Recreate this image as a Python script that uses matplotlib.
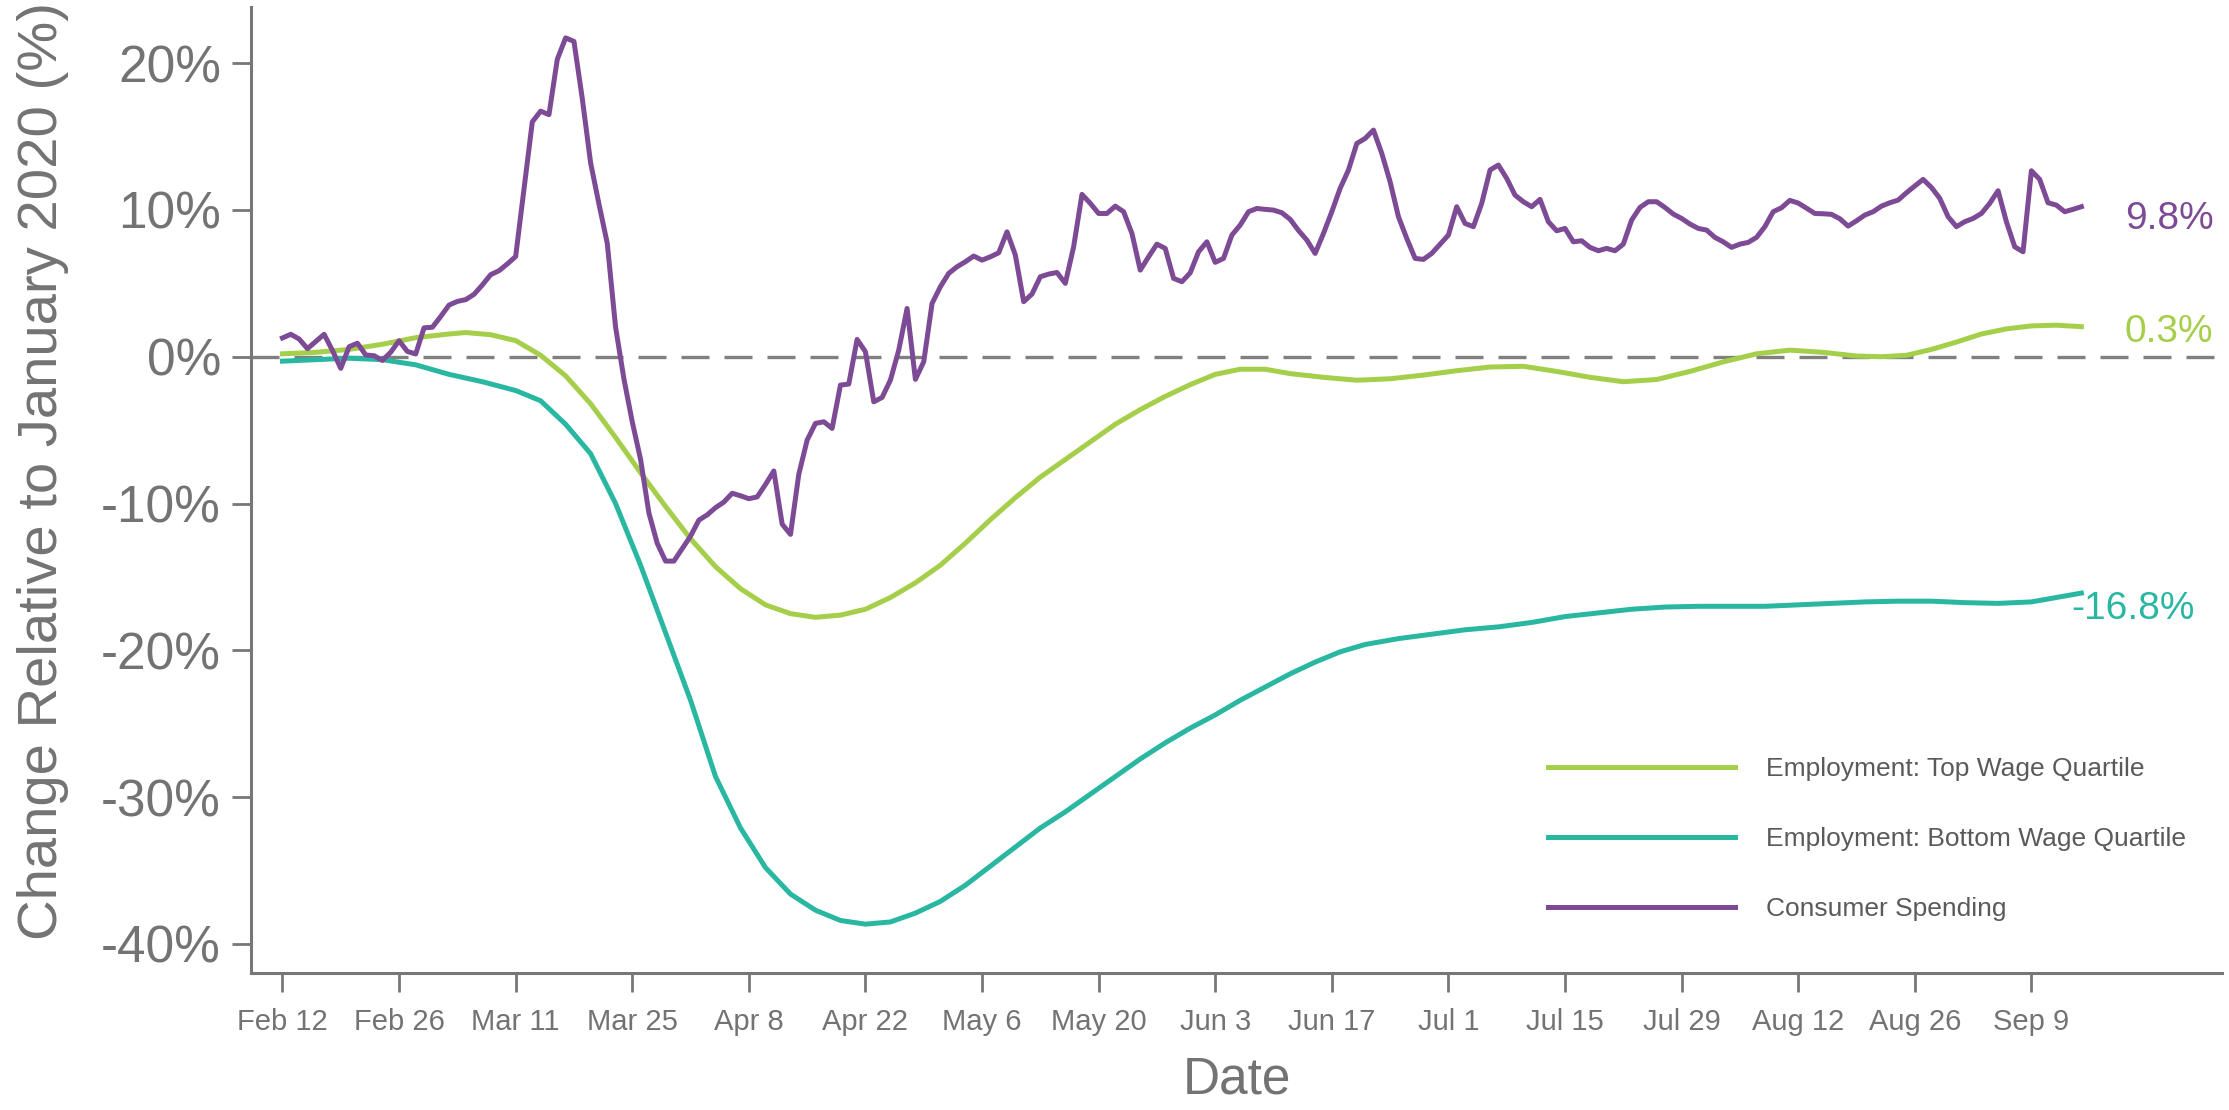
import numpy as np
import pandas as pd
import matplotlib
matplotlib.use('Agg')
import matplotlib.pyplot as plt
from matplotlib.ticker import FuncFormatter
import matplotlib.dates as mdates

plt.rcParams['font.family'] = ['Liberation Sans', 'DejaVu Sans']

# daily consumer spending, starts Feb 12 2020
start = pd.Timestamp('2020-02-12')
spending = [
    1.28, 1.53, 1.21, 0.55, 1.04, 1.53, 0.43, -0.79, 0.68, 0.92,
    0.12, 0.07, -0.25, 0.31, 1.09, 0.36, 0.19, 1.97, 2.01, 2.74,
    3.52, 3.77, 3.89, 4.25, 4.89, 5.59, 5.86, 6.32, 6.83, 11.4,
    16.0, 16.73, 16.49, 20.26, 21.72, 21.48, 17.59, 13.21, 10.41, 7.73,
    2.01, -1.51, -4.43, -6.99, -10.64, -12.71, -13.92, -13.92, -13.07, -12.22,
    -11.13, -10.77, -10.28, -9.9, -9.3, -9.47, -9.67, -9.55, -8.70, -7.78,
    -11.4, -12.1, -8.0, -5.68, -4.54, -4.43, -4.88, -1.93, -1.86, 1.18,
    0.34, -3.07, -2.77, -1.59, 0.45, 3.29, -1.54, -0.34, 3.63, 4.77,
    5.68, 6.13, 6.47, 6.86, 6.58, 6.81, 7.08, 8.51, 6.93, 3.75,
    4.27, 5.45, 5.63, 5.74, 5.0, 7.49, 11.06, 10.45, 9.76, 9.76,
    10.26, 9.88, 8.40, 5.90, 6.81, 7.67, 7.38, 5.34, 5.11, 5.72,
    7.15, 7.83, 6.43, 6.70, 8.29, 8.97, 9.88, 10.10, 10.04, 9.99,
    9.81, 9.36, 8.6, 7.95, 7.04, 8.40, 9.88, 11.47, 12.72, 14.53,
    14.87, 15.44, 13.85, 11.92, 9.54, 8.06, 6.70, 6.63, 7.04, 7.67,
    8.29, 10.22, 9.08, 8.86, 10.45, 12.72, 13.06, 12.15, 11.01, 10.56,
    10.22, 10.72, 9.20, 8.58, 8.74, 7.83, 7.90, 7.45, 7.22, 7.38,
    7.22, 7.67, 9.31, 10.17, 10.56, 10.56, 10.17, 9.72, 9.42, 9.04,
    8.74, 8.63, 8.13, 7.83, 7.45, 7.67, 7.79, 8.13, 8.86, 9.88,
    10.15, 10.65, 10.47, 10.12, 9.76, 9.74, 9.70, 9.40, 8.90, 9.26,
    9.65, 9.88, 10.26, 10.49, 10.67, 11.17, 11.63, 12.08, 11.53, 10.79,
    9.54, 8.86, 9.20, 9.42, 9.76, 10.45, 11.31, 9.20, 7.49, 7.15,
    12.67, 12.08, 10.49, 10.33, 9.88, 10.04, 10.22,
]

# employment, days after Feb 12
top_days = [0, 4, 8, 12, 16, 20, 22, 25, 28, 31, 34, 37, 40, 43, 46, 49, 52, 55,
            58, 61, 64, 67, 70, 73, 76, 79, 82, 85, 88, 91, 94, 97, 100, 103,
            106, 109, 112, 115, 118, 121, 125, 129, 133, 137, 141, 145, 149,
            153, 157, 161, 165, 169, 173, 177, 181, 185, 189, 192, 195, 198,
            201, 204, 207, 210, 213, 216]
top_vals = [0.2, 0.3, 0.5, 0.85, 1.3, 1.55, 1.65, 1.5, 1.1, 0.1, -1.3, -3.2,
            -5.5, -7.9, -10.2, -12.4, -14.3, -15.8, -16.9, -17.5, -17.75, -17.6,
            -17.2, -16.4, -15.4, -14.2, -12.7, -11.1, -9.6, -8.2, -7.0, -5.8,
            -4.6, -3.6, -2.7, -1.9, -1.2, -0.85, -0.85, -1.15, -1.4, -1.6, -1.5,
            -1.25, -0.95, -0.7, -0.65, -1.0, -1.4, -1.7, -1.55, -1.0, -0.35,
            0.2, 0.45, 0.3, 0.05, 0.0, 0.1, 0.5, 1.0, 1.55, 1.9, 2.1, 2.15, 2.05]

bottom_days = [0, 4, 8, 12, 16, 20, 24, 28, 31, 34, 37, 40, 43, 46, 49, 52, 55,
               58, 61, 64, 67, 70, 73, 76, 79, 82, 85, 88, 91, 94, 97, 100, 103,
               106, 109, 112, 115, 118, 121, 124, 127, 130, 134, 138, 142, 146,
               150, 154, 158, 162, 166, 170, 174, 178, 182, 186, 190, 194, 198,
               202, 206, 210, 213, 216]
bottom_vals = [-0.3, -0.2, -0.1, -0.2, -0.55, -1.2, -1.7, -2.3, -3.0, -4.6, -6.6,
               -10.0, -14.2, -18.8, -23.4, -28.6, -32.1, -34.8, -36.6, -37.7,
               -38.4, -38.65, -38.5, -37.9, -37.1, -36.0, -34.7, -33.4, -32.1,
               -31.0, -29.8, -28.6, -27.4, -26.3, -25.3, -24.4, -23.4, -22.5,
               -21.6, -20.8, -20.1, -19.6, -19.2, -18.9, -18.6, -18.4, -18.1,
               -17.7, -17.45, -17.2, -17.05, -17.0, -17.0, -17.0, -16.9, -16.8,
               -16.7, -16.65, -16.65, -16.75, -16.8, -16.7, -16.4, -16.1]

labels = ['Employment: Top Wage Quartile', 'Employment: Bottom Wage Quartile',
          'Consumer Spending']
colors = ['#A5CE4A', '#2AB7A2', '#7D4A95']
end_labels = ['0.3%', '-16.8%', '9.8%']

gray = '#777777'

fig = plt.figure(figsize=(22.29, 11.10), dpi=100)
ax = fig.add_axes([0.1126, 0.1234, 0.8843, 0.8705])

spend_dates = pd.date_range(start, periods=len(spending), freq='D')
top_dates = start + pd.to_timedelta(top_days, unit='D')
bottom_dates = start + pd.to_timedelta(bottom_days, unit='D')

ax.axhline(0, color='#808080', lw=2.4, dashes=(8.4, 4.5), zorder=1)
ax.plot(top_dates, top_vals, color=colors[0], lw=3.6, label=labels[0], zorder=2)
ax.plot(bottom_dates, bottom_vals, color=colors[1], lw=3.6, label=labels[1], zorder=2)
ax.plot(spend_dates, spending, color=colors[2], lw=3.6, label=labels[2], zorder=3)

# end labels
ax.text(start + pd.Timedelta(days=221.2), 1.7, end_labels[0], color=colors[0],
        fontsize=28, va='center', ha='left')
ax.text(start + pd.Timedelta(days=214.8), -17.2, end_labels[1], color=colors[1],
        fontsize=28, va='center', ha='left')
ax.text(start + pd.Timedelta(days=221.2), 9.4, end_labels[2], color=colors[2],
        fontsize=28, va='center', ha='left')

ax.set_xlim(start - pd.Timedelta(days=3.78), start + pd.Timedelta(days=232.9))
ax.set_ylim(-41.98, 23.84)

tick_dates = pd.date_range('2020-02-12', '2020-09-09', freq='14D')
ax.set_xticks(tick_dates)
ax.xaxis.set_major_formatter(mdates.DateFormatter('%b %-d'))
ax.set_yticks([-40, -30, -20, -10, 0, 10, 20])
ax.yaxis.set_major_formatter(FuncFormatter(lambda v, p: '%d%%' % v))

for s in ['top', 'right']:
    ax.spines[s].set_visible(False)
for s in ['left', 'bottom']:
    ax.spines[s].set_color(gray)
    ax.spines[s].set_linewidth(2.2)

ax.tick_params(axis='both', colors=gray, width=2.0, length=13.5)
ax.tick_params(axis='x', labelsize=21, pad=12, labelcolor='#737373')
ax.tick_params(axis='y', labelsize=37, pad=8, labelcolor='#737373')

ax.set_xlabel('Date', fontsize=37, color='#737373')
ax.set_ylabel('Change Relative to January 2020 (%)', fontsize=40.5, color='#737373')
ax.xaxis.set_label_coords(0.5, -0.111)
ax.xaxis.label.set_va('center')
ax.yaxis.set_label_coords(-0.1055, 0.52)
ax.yaxis.label.set_va('center')

leg = ax.legend(loc='center left', bbox_to_anchor=(0.6945, 0.2441),
                bbox_transform=fig.transFigure, frameon=False, fontsize=19,
                handlelength=7.1, handletextpad=1.15, labelspacing=1.74,
                borderpad=0, borderaxespad=0)
for t in leg.get_texts():
    t.set_color('#5a5a5a')

fig.savefig('out.png', dpi=100)
